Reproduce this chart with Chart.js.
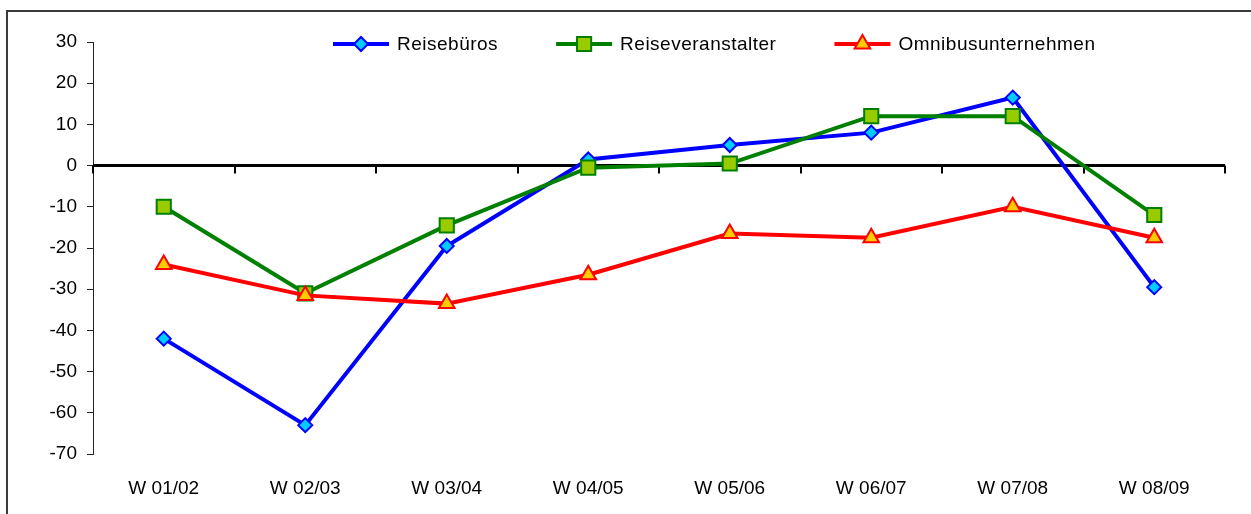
<!DOCTYPE html>
<html>
<head>
<meta charset="utf-8">
<script src="https://cdn.jsdelivr.net/npm/chart.js@4.4.1/dist/chart.umd.min.js"></script>
<style>
    html, body { margin: 0; padding: 0; background: #fff; }
    #wrap { position: relative; width: 1251px; height: 514px; overflow: hidden; }
    #frame {
        position: absolute; left: 6px; top: 10px; width: 1300px; height: 600px;
        border-left: 2px solid #3a3a3a; border-top: 2px solid #3a3a3a; pointer-events: none;
    }
</style>
</head>
<body>
<div id="wrap">
    <canvas id="chart-lines" width="1251" height="514"></canvas>
    <div id="frame"></div>
</div>
<script>
/*===============
data
====================*/
const categories = ['W 01/02', 'W 02/03', 'W 03/04', 'W 04/05', 'W 05/06', 'W 06/07', 'W 07/08', 'W 08/09'];
const reisebueros = [-42, -63, -19.5, 1.5, 5, 8, 16.5, -29.5];
const reiseveranstalter = [-10, -31, -14.5, -0.5, 0.5, 12, 12, -12];
const omnibus = [-24, -31.5, -33.5, -26.5, -16.5, -17.5, -10, -17.5];
const yMin = -70;
const yMax = 30;
const yStep = 10;

const FONT = "'Liberation Sans', Arial, sans-serif";

/*===============
zero axis with category tick marks
====================*/
const zeroAxis = {
    id: 'zeroAxis',
    beforeDatasetsDraw(chart) {
        const ctx = chart.ctx;
        const xs = chart.scales.x;
        const y0 = chart.scales.y.getPixelForValue(0);
        const n = chart.data.labels.length;
        ctx.save();
        ctx.strokeStyle = '#000';
        ctx.lineWidth = 3;
        ctx.beginPath();
        ctx.moveTo(xs.left, y0);
        ctx.lineTo(xs.right, y0);
        ctx.stroke();
        ctx.lineWidth = 2;
        ctx.beginPath();
        for (let i = 0; i <= n; i++) {
            const bx = Math.round(xs.left + i * xs.width / n);
            ctx.moveTo(bx, y0);
            ctx.lineTo(bx, y0 + 8);
        }
        ctx.stroke();
        ctx.restore();
    }
};

/*===============
legend: line + marker + text
====================*/
const lineLegend = {
    id: 'lineLegend',
    afterDraw(chart) {
        const ctx = chart.ctx;
        let x = 333;
        const y = 44;
        ctx.save();
        ctx.font = '19px ' + FONT;
        ctx.letterSpacing = '0.5px';
        ctx.textBaseline = 'middle';
        ctx.fillStyle = '#000';
        chart.data.datasets.forEach(ds => {
            ctx.strokeStyle = ds.borderColor;
            ctx.lineWidth = ds.borderWidth;
            ctx.beginPath();
            ctx.moveTo(x, y);
            ctx.lineTo(x + 56, y);
            ctx.stroke();
            ctx.fillStyle = ds.pointBackgroundColor;
            ctx.strokeStyle = ds.pointBorderColor;
            ctx.lineWidth = ds.pointBorderWidth;
            Chart.helpers.drawPoint(ctx, {
                pointStyle: ds.pointStyle,
                radius: ds.pointRadius,
                rotation: 0,
                borderWidth: ds.pointBorderWidth
            }, x + 28, y);
            ctx.fillStyle = '#000';
            ctx.fillText(ds.label, x + 64, y + 1);
            x += 64 + ctx.measureText(ds.label).width + 58;
        });
        ctx.restore();
    }
};

/*===============
line chart
====================*/
const lineChart = document.getElementById('chart-lines');
if (lineChart) {
    new Chart(lineChart, {
        type: 'line',
        data: {
            labels: categories,
            datasets: [
                {
                    label: 'Reisebüros',
                    data: reisebueros,
                    borderColor: '#0000ff',
                    borderWidth: 4,
                    pointStyle: 'rectRot',
                    pointRadius: 7,
                    pointBackgroundColor: '#00ccff',
                    pointBorderColor: '#0000ff',
                    pointBorderWidth: 2,
                    tension: 0,
                    order: 2
                },
                {
                    label: 'Reiseveranstalter',
                    data: reiseveranstalter,
                    borderColor: '#008000',
                    borderWidth: 4,
                    pointStyle: 'rect',
                    pointRadius: 10,
                    pointBackgroundColor: '#99cc00',
                    pointBorderColor: '#008000',
                    pointBorderWidth: 2,
                    tension: 0,
                    order: 1
                },
                {
                    label: 'Omnibusunternehmen',
                    data: omnibus,
                    borderColor: '#ff0000',
                    borderWidth: 4,
                    pointStyle: 'triangle',
                    pointRadius: 9,
                    pointBackgroundColor: '#ffcc00',
                    pointBorderColor: '#ff0000',
                    pointBorderWidth: 2,
                    tension: 0,
                    order: 0
                }
            ]
        },
        options: {
            responsive: false,
            animation: false,
            layout: {
                padding: { left: 0, right: 26, top: 42, bottom: 0 }
            },
            plugins: {
                legend: { display: false },
                tooltip: { enabled: false }
            },
            scales: {
                x: {
                    offset: true,
                    grid: { display: false },
                    border: { display: false },
                    ticks: {
                        color: '#000',
                        font: { family: FONT, size: 19 },
                        padding: 15,
                        maxRotation: 0
                    },
                    afterFit(scale) { scale.height = 60; }
                },
                y: {
                    min: yMin,
                    max: yMax,
                    grid: {
                        drawOnChartArea: false,
                        drawTicks: true,
                        tickLength: 6,
                        color: '#222'
                    },
                    border: { display: true, color: '#222', width: 1 },
                    ticks: {
                        stepSize: yStep,
                        color: '#000',
                        font: { family: FONT, size: 19 },
                        padding: 10
                    },
                    afterFit(scale) { scale.width = 93; }
                }
            }
        },
        plugins: [zeroAxis, lineLegend]
    });
}
</script>
</body>
</html>
